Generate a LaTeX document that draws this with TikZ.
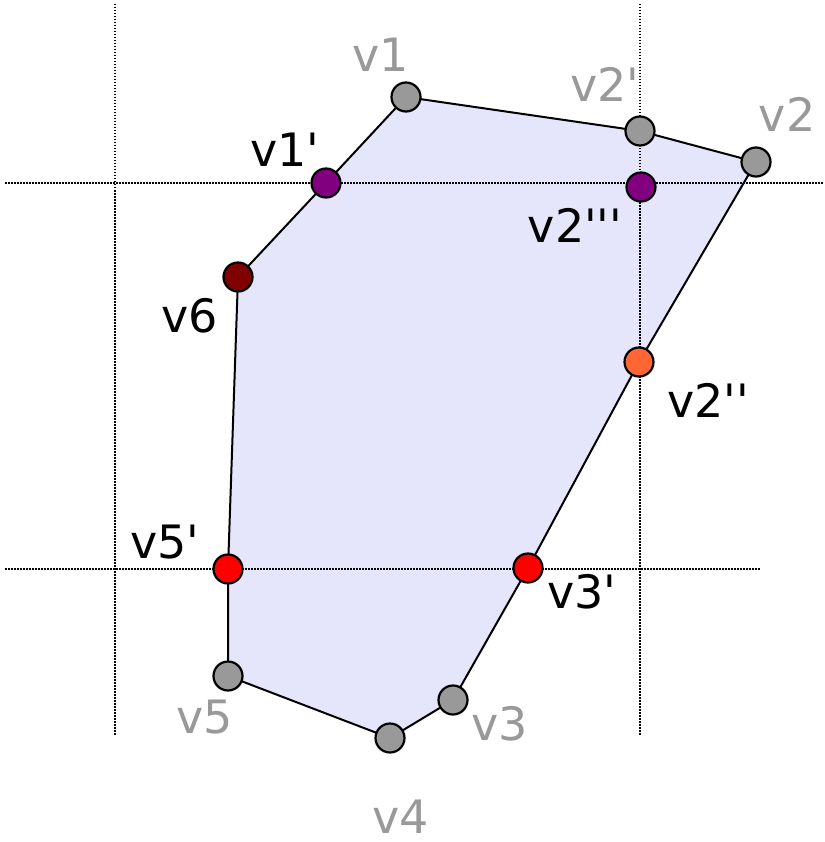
\documentclass[tikz,border=0pt]{standalone}
\usepackage{fontspec}
\newfontfamily\lab[Ligatures=TeXOff]{DejaVu Sans}
\definecolor{polyfill}{RGB}{229,229,252}
\definecolor{vgray}{RGB}{153,153,153}
\definecolor{vpurple}{RGB}{128,0,128}
\definecolor{vdark}{RGB}{128,0,0}
\definecolor{vorange}{RGB}{255,102,51}
\definecolor{vred}{RGB}{255,0,0}
\definecolor{lgray}{RGB}{153,153,153}
\tikzset{
  vtx/.style={circle, draw=black, line width=2.2pt, minimum size=29pt, inner sep=0pt},
  lbl/.style={anchor=base, inner sep=0pt, font=\lab\fontsize{46}{54}\selectfont},
  grid line/.style={line width=1.8pt, dash pattern=on 1.5pt off 1.5pt, black},
  edge/.style={line width=2pt, black, line join=round}
}
\begin{document}
\begin{tikzpicture}[x=1pt,y=-1pt]
\useasboundingbox (0,0) rectangle (824,842);
% vertex coordinates
\coordinate (p1) at (406,97);
\coordinate (p2a) at (640,131);
\coordinate (p2) at (756,162);
\coordinate (p2b) at (639,362);
\coordinate (p3a) at (528,568);
\coordinate (p3) at (453,700);
\coordinate (p4) at (390,738);
\coordinate (p5) at (228,676);
\coordinate (p5a) at (228,569);
\coordinate (p6) at (238,277);
\coordinate (p1a) at (326,183);
\coordinate (p2c) at (641,187);
% fill
\fill[polyfill] (p1) -- (p2a) -- (p2) -- (p2b) -- (p3a) -- (p3) -- (p4) -- (p5) -- (p5a) -- (p6) -- (p1a) -- cycle;
% dotted grid lines
\coordinate (gv1t) at (115,4);
\coordinate (gv1b) at (115,735);
\coordinate (gv2t) at (640,4);
\coordinate (gv2b) at (640,735);
\coordinate (gh1l) at (5,183);
\coordinate (gh1r) at (824,183);
\coordinate (gh2l) at (5,569);
\coordinate (gh2r) at (760,569);
\draw[grid line] (gv1t) -- (gv1b);
\draw[grid line] (gv2t) -- (gv2b);
\draw[grid line] (gh1l) -- (gh1r);
\draw[grid line] (gh2l) -- (gh2r);
% outline
\draw[edge] (p1) -- (p2a) -- (p2) -- (p2b) -- (p3a) -- (p3) -- (p4) -- (p5) -- (p5a) -- (p6) -- (p1a) -- cycle;
% vertices
\node[vtx, fill=vgray] (v1) at (p1) {};
\node[vtx, fill=vgray] (v2a) at (p2a) {};
\node[vtx, fill=vgray] (v2) at (p2) {};
\node[vtx, fill=vorange] (v2b) at (p2b) {};
\node[vtx, fill=vred] (v3a) at (p3a) {};
\node[vtx, fill=vgray] (v3) at (p3) {};
\node[vtx, fill=vgray] (v4) at (p4) {};
\node[vtx, fill=vgray] (v5) at (p5) {};
\node[vtx, fill=vred] (v5a) at (p5a) {};
\node[vtx, fill=vdark] (v6) at (p6) {};
\node[vtx, fill=vpurple] (v1a) at (p1a) {};
\node[vtx, fill=vpurple] (v2c) at (p2c) {};
% labels
\node[lbl, text=lgray] (l1) at (381,72) {v1};
\node[lbl] (l1a) at (285,167) {v1'};
\node[lbl, text=lgray] (l2a) at (605,102) {v2'};
\node[lbl, text=lgray] (l2) at (787,132) {v2};
\node[lbl] (l2c) at (575,242) {v2'''};
\node[lbl] (l6) at (190,332) {v6};
\node[lbl] (l2b) at (708,417) {v2''};
\node[lbl] (l5a) at (165,558) {v5'};
\node[lbl, text=lgray] (l5) at (205,733) {v5};
\node[lbl] (l3a) at (582,608) {v3'};
\node[lbl, text=lgray] (l3) at (500,740) {v3};
\node[lbl, text=lgray] (l4) at (401,833) {v4};
\end{tikzpicture}
\end{document}
